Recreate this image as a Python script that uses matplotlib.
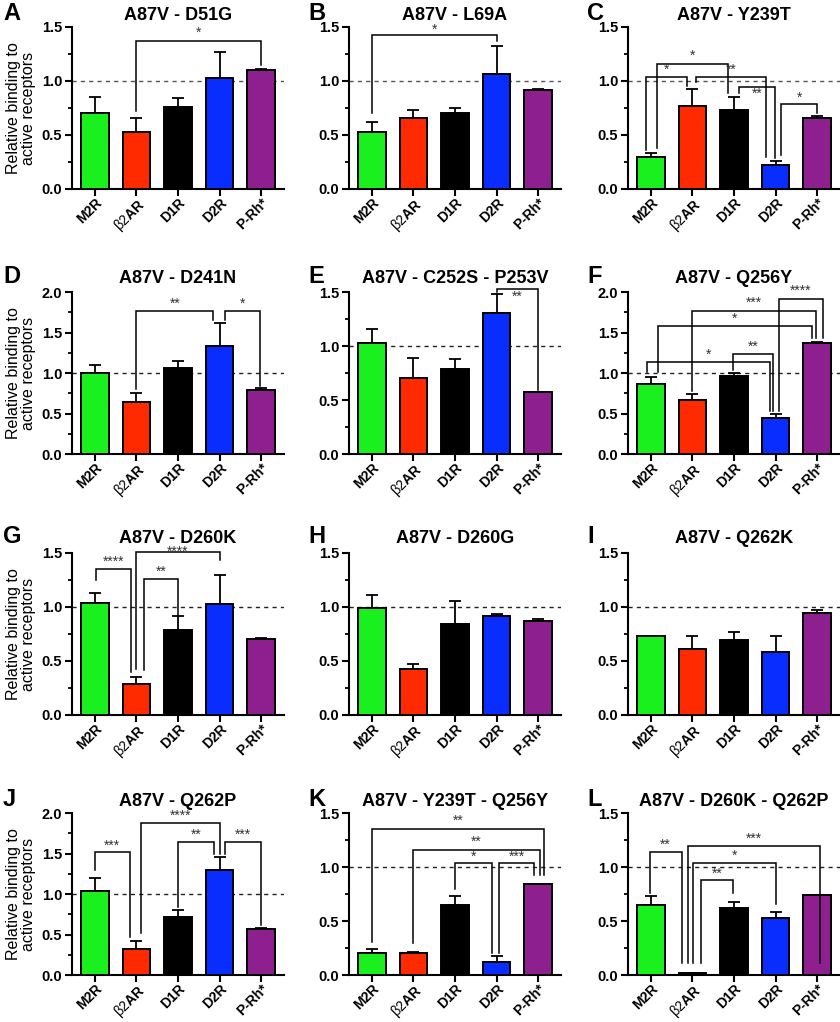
import numpy as np
import matplotlib

matplotlib.use("Agg")
import matplotlib.pyplot as plt
from matplotlib.ticker import MultipleLocator, FormatStrFormatter

plt.rcParams.update(
    {
        "font.family": ["Liberation Sans", "DejaVu Sans"],
        "mathtext.fontset": "custom",
        "mathtext.rm": "Liberation Sans",
        "axes.linewidth": 1.5,
    }
)

# receptor categories (x axis)
receptors = ["M2R", r"$\mathrm{\beta 2}$AR", "D1R", "D2R", "P-Rh*"]
bar_colors = ["#19f01e", "#ff2a00", "#000000", "#0a2dff", "#8e1f8e"]

panel_letters = ["A", "B", "C", "D", "E", "F", "G", "H", "I", "J", "K", "L"]
panel_titles = [
    "A87V - D51G", "A87V - L69A", "A87V - Y239T",
    "A87V - D241N", "A87V - C252S - P253V", "A87V - Q256Y",
    "A87V - D260K", "A87V - D260G", "A87V - Q262K",
    "A87V - Q262P", "A87V - Y239T - Q256Y", "A87V - D260K - Q262P",
]
panel_ymax = [1.5, 1.5, 1.5, 2.0, 1.5, 2.0, 1.5, 1.5, 1.5, 2.0, 1.5, 1.5]

# mean relative binding and SEM (upper error) per panel
d51g_mean = [0.70, 0.526, 0.762, 1.024, 1.10]
d51g_err = [0.15, 0.13, 0.08, 0.24, 0.01]
l69a_mean = [0.529, 0.655, 0.704, 1.067, 0.919]
l69a_err = [0.095, 0.075, 0.043, 0.258, 0.011]
y239t_mean = [0.298, 0.768, 0.732, 0.218, 0.661]
y239t_err = [0.034, 0.157, 0.123, 0.037, 0.012]
d241n_mean = [0.994, 0.639, 1.06, 1.328, 0.792]
d241n_err = [0.099, 0.116, 0.082, 0.284, 0.024]
c252s_p253v_mean = [1.024, 0.708, 0.786, 1.308, 0.572]
c252s_p253v_err = [0.133, 0.18, 0.096, 0.17, 0.006]
q256y_mean = [0.866, 0.668, 0.957, 0.445, 1.373]
q256y_err = [0.082, 0.074, 0.049, 0.045, 0.013]
d260k_mean = [1.035, 0.285, 0.79, 1.028, 0.704]
d260k_err = [0.091, 0.07, 0.131, 0.267, 0.009]
d260g_mean = [0.995, 0.429, 0.842, 0.92, 0.873]
d260g_err = [0.119, 0.039, 0.217, 0.015, 0.017]
q262k_mean = [0.729, 0.61, 0.698, 0.582, 0.943]
q262k_err = [0.0, 0.125, 0.07, 0.147, 0.027]
q262p_mean = [1.035, 0.316, 0.719, 1.302, 0.567]
q262p_err = [0.168, 0.107, 0.081, 0.156, 0.012]
y239t_q256y_mean = [0.2, 0.206, 0.65, 0.117, 0.841]
y239t_q256y_err = [0.04, 0.01, 0.086, 0.062, 0.006]
d260k_q262p_mean = [0.647, 0.015, 0.625, 0.524, 0.739]
d260k_q262p_err = [0.089, 0.005, 0.053, 0.061, 0.0]

panel_means = [
    d51g_mean, l69a_mean, y239t_mean, d241n_mean, c252s_p253v_mean, q256y_mean,
    d260k_mean, d260g_mean, q262k_mean, q262p_mean, y239t_q256y_mean,
    d260k_q262p_mean,
]
panel_errs = [
    d51g_err, l69a_err, y239t_err, d241n_err, c252s_p253v_err, q256y_err,
    d260k_err, d260g_err, q262k_err, q262p_err, y239t_q256y_err,
    d260k_q262p_err,
]

# significance brackets: (x_left, x_right, top, left_end, right_end, stars, star_y)
panel_brackets = [
    [(1.0, 4.0, 1.37, 0.72, 1.147, "*", 1.45)],
    [(0.0, 3.0, 1.423, 0.707, 1.368, "*", 1.475)],
    [
        (-0.12, 0.86, 1.039, 0.363, 0.953, "*", 1.10),
        (0.15, 1.86, 1.162, 0.384, 0.885, "*", 1.23),
        (1.08, 2.78, 1.039, 0.993, 0.30, "**", 1.107),
        (2.12, 2.98, 0.94, 0.89, 0.286, "**", 0.879),
        (3.14, 4.0, 0.784, 0.317, 0.70, "*", 0.845),
    ],
    [
        (1.0, 2.85, 1.761, 0.804, 1.65, "**", 1.856),
        (3.14, 3.98, 1.761, 1.65, 0.845, "*", 1.856),
    ],
    [(3.0, 4.0, 1.531, 1.50, 0.594, "**", 1.454)],
    [
        (-0.10, 2.86, 1.134, 1.01, 0.536, "*", 1.225),
        (1.98, 2.94, 1.229, 1.031, 0.536, "**", 1.32),
        (0.16, 3.88, 1.575, 1.01, 1.435, "*", 1.67),
        (1.0, 3.98, 1.765, 0.783, 1.435, "***", 1.864),
        (3.08, 4.13, 1.918, 0.536, 1.435, "****", 2.02),
    ],
    [
        (0.02, 0.86, 1.35, 1.249, 0.401, "****", 1.417),
        (1.0, 3.0, 1.509, 0.422, 1.432, "****", 1.515),
        (1.18, 2.0, 1.258, 0.416, 0.92, "**", 1.325),
    ],
    [],
    [],
    [
        (0.0, 0.84, 1.52, 1.294, 0.472, "***", 1.60),
        (1.12, 3.0, 1.877, 0.513, 1.499, "****", 1.97),
        (2.0, 2.86, 1.643, 0.842, 1.499, "**", 1.737),
        (3.14, 4.0, 1.643, 1.499, 0.616, "***", 1.737),
    ],
    [
        (0.0, 4.14, 1.355, 0.308, 0.924, "**", 1.432),
        (1.0, 4.04, 1.161, 0.293, 0.924, "**", 1.238),
        (2.0, 2.89, 1.038, 0.80, 0.2, "*", 1.093),
        (3.06, 3.9, 1.038, 0.2, 0.924, "***", 1.093),
    ],
    [
        (-0.03, 0.74, 1.14, 0.755, 0.108, "**", 1.21),
        (0.89, 4.08, 1.192, 0.108, 0.108, "***", 1.263),
        (1.02, 3.0, 1.038, 0.108, 0.662, "*", 1.10),
        (1.21, 1.98, 0.884, 0.108, 0.755, "**", 0.94),
    ],
]

W, H = 840, 1022
col_left = [72, 349, 628]
row_top = [27, 292, 553, 813]
ax_w, ax_h = 212, 162
title_base = [20, 283, 543, 806]
letter_x = [3, 308, 587]
dash_colors = ["#555555", "#222222", "#222222", "#222222"]

fig = plt.figure(figsize=(W / 100, H / 100), dpi=100)

for p in range(12):
    r, c = divmod(p, 3)
    ax = fig.add_axes(
        [col_left[c] / W, 1 - (row_top[r] + ax_h) / H, ax_w / W, ax_h / H]
    )
    x = np.arange(len(receptors))
    means = panel_means[p]
    errs = panel_errs[p]

    ax.errorbar(
        x, means, yerr=[np.zeros(len(errs)), errs], fmt="none", ecolor="k",
        elinewidth=1.3, capsize=4, capthick=1.3, zorder=2,
    )
    ax.bar(x, means, width=0.67, color=bar_colors, edgecolor="k",
           linewidth=1.4, zorder=3)
    ax.axhline(1.0, color=dash_colors[r], linestyle=(0, (3, 3)),
               linewidth=1.0, zorder=1)

    for x0, x1, top, y0, y1, stars, sy in panel_brackets[p]:
        ax.plot([x0, x0, x1, x1], [y0, top, top, y1], color="k",
                linewidth=1.1, zorder=5, solid_joinstyle="miter",
                clip_on=False)
        ax.text((x0 + x1) / 2, sy, stars, ha="center", va="center",
                fontsize=10, color="#333333", zorder=6)

    ax.set_xlim(-0.55, 4.55)
    ax.set_ylim(0, panel_ymax[p])
    ax.yaxis.set_major_locator(MultipleLocator(0.5))
    ax.yaxis.set_minor_locator(MultipleLocator(0.25))
    ax.yaxis.set_major_formatter(FormatStrFormatter("%.1f"))
    ax.spines["top"].set_visible(False)
    ax.spines["right"].set_visible(False)
    ax.tick_params(axis="y", which="major", length=5, width=1.5,
                   labelsize=10.5, pad=2)
    ax.tick_params(axis="x", which="major", length=5, width=1.5,
                   labelsize=10, pad=0)
    ax.tick_params(axis="y", which="minor", length=3, width=1.3)
    ax.set_xticks(x)
    ax.set_xticklabels(receptors, rotation=45, ha="right", va="top",
                       rotation_mode="anchor", fontweight="bold")
    for lab in ax.get_yticklabels():
        lab.set_fontweight("bold")

    if c == 0:
        ax.set_ylabel("Relative binding to\nactive receptors", fontsize=11.5,
                      labelpad=4, linespacing=1.0)

    fig.text((col_left[c] + ax_w / 2) / W, 1 - title_base[r] / H,
             panel_titles[p], ha="center", va="baseline", fontsize=13,
             fontweight="bold")
    fig.text(letter_x[c] / W, 1 - title_base[r] / H, panel_letters[p],
             ha="left", va="baseline", fontsize=17, fontweight="bold")

fig.savefig("out.png", dpi=100)
